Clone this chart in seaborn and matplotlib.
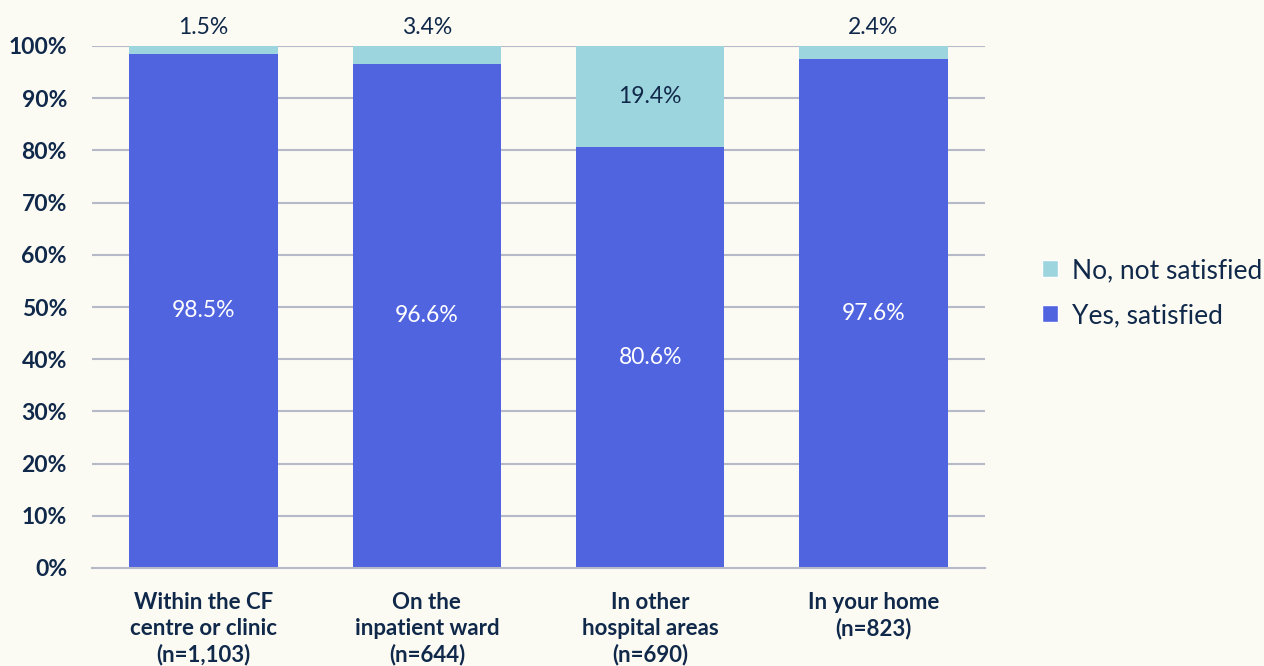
import matplotlib
matplotlib.use("Agg")
import matplotlib.pyplot as plt
import seaborn as sns
import pandas as pd
from matplotlib.patches import Patch

categories = ["Within the CF\ncentre or clinic\n(n=1,103)",
              "On the\ninpatient ward\n(n=644)",
              "In other\nhospital areas\n(n=690)",
              "In your home\n(n=823)"]
yes_vals = [98.5, 96.6, 80.6, 97.6]
no_vals = [1.5, 3.4, 19.4, 2.4]
yticks = [0, 10, 20, 30, 40, 50, 60, 70, 80, 90, 100]

BG = "#FBFAF3"
BLUE = "#5064E0"
LIGHT = "#9DD5DE"
TEXT = "#10294A"
GRID = "#B5B9C8"

sns.set_theme(style="white")
plt.rcParams["font.family"] = ["Lato", "DejaVu Sans"]

df = pd.DataFrame({"cat": categories, "yes": yes_vals, "no": no_vals})
df["total"] = df["yes"] + df["no"]

fig = plt.figure(figsize=(12.64, 6.66), dpi=100, facecolor=BG)
ax = fig.add_axes([92/1264, 1-568/666, (985-92)/1264, (568-46)/666])
ax.set_facecolor(BG)

for y in yticks[1:]:
    ax.axhline(y, color=GRID, lw=1.5, zorder=0)

sns.barplot(data=df, x="cat", y="total", color=LIGHT, saturation=1, width=0.665,
            linewidth=0, ax=ax, zorder=2)
sns.barplot(data=df, x="cat", y="yes", color=BLUE, saturation=1, width=0.665,
            linewidth=0, ax=ax, zorder=3)

for i, (y_, n_) in enumerate(zip(yes_vals, no_vals)):
    ax.text(i, y_/2, f"{y_:.1f}%", ha="center", va="center", color="white", fontsize=16.5, zorder=5)
    if n_ < 10:
        ax.text(i, 101.5, f"{n_:.1f}%", ha="center", va="bottom", color=TEXT, fontsize=16.5, zorder=5)
    else:
        ax.text(i, y_ + n_/2, f"{n_:.1f}%", ha="center", va="center", color=TEXT, fontsize=16.5, zorder=5)

ax.set_ylim(0, 100)
ax.set_xlim(-0.5, 3.5)
ax.set_yticks(yticks)
ax.set_yticklabels([f"{v}%" for v in yticks], fontsize=16.5, fontweight="bold", color=TEXT)
ax.set_xticks(range(len(categories)))
ax.set_xticklabels(categories, fontsize=16, fontweight="bold", color=TEXT, linespacing=1.3)
ax.tick_params(axis="x", length=0, pad=17)
ax.tick_params(axis="y", length=0, pad=18)
ax.set_xlabel("")
ax.set_ylabel("")
for s in ["top", "right", "left"]:
    ax.spines[s].set_visible(False)
ax.spines["bottom"].set_color(GRID)
ax.spines["bottom"].set_linewidth(1.5)
ax.spines["bottom"].set_zorder(4)

handles = [Patch(facecolor=LIGHT, label="No, not satisfied"),
           Patch(facecolor=BLUE, label="Yes, satisfied")]
leg = fig.legend(handles=handles, loc="center left", bbox_to_anchor=(1042/1264, 1-293/666),
                 frameon=False, fontsize=19, handlelength=0.6, handleheight=0.6,
                 handletextpad=0.55, labelspacing=0.75, borderpad=0, borderaxespad=0)
for t in leg.get_texts():
    t.set_color(TEXT)

fig.savefig("out.png", dpi=100, facecolor=BG)
